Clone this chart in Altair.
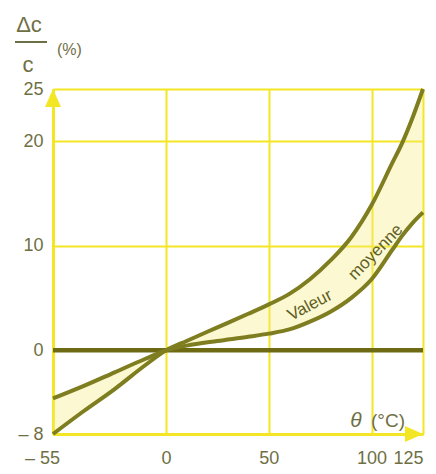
import altair as alt
import pandas as pd

# ---- data ----
temps = [-55, -40, -25, -10, 0, 10, 25, 40, 50, 60, 70, 80, 90, 100, 110, 115, 120, 125]
upper = [-8.0, -5.8, -3.7, -1.4, 0.0, 0.9, 2.2, 3.5, 4.4, 5.4, 6.8, 8.6, 10.8, 13.9, 17.9, 19.9, 22.3, 25.0]
lower = [-4.6, -3.4, -2.1, -0.8, 0.0, 0.45, 0.9, 1.3, 1.6, 2.0, 2.75, 3.7, 5.0, 6.8, 9.6, 11.0, 12.2, 13.2]

x_domain = [-55, 125]
y_domain = [-8, 25]
x_ticks = [-55, 0, 50, 100, 125]
y_ticks = [-8, 0, 10, 20, 25]

label_words = ["Valeur", "moyenne"]
label_x = [70, 102]
label_y = [4.3, 9.4]
label_angle = [332, 314]

YELLOW = "#f3e625"
OLIVE = "#7e7d20"
DARK = "#6e6a14"
TXT = "#6f6f45"
FONT = "Liberation Sans"

df = pd.DataFrame({"t": temps, "upper": upper, "lower": lower})

lbl_expr = "datum.value < 0 ? '\u2013 ' + abs(datum.value) : datum.label"

x_axis = alt.Axis(
    values=x_ticks, grid=True, gridColor=YELLOW, gridWidth=2,
    domainColor=YELLOW, domainWidth=3, ticks=False,
    labelExpr=lbl_expr, labelFont=FONT, labelFontSize=18, labelColor=TXT,
    labelPadding=15, labelBaseline="top", labelOverlap=False, labelFlush=False,
    labelAlign={"condition": {"test": "datum.value == 125", "value": "right"}, "value": "center"},
    labelOffset={"condition": {"test": "datum.value == -55", "value": -11}, "value": 0},
    title=None,
)
y_axis = alt.Axis(
    values=y_ticks, grid=True, gridColor=YELLOW, gridWidth=2,
    domainColor=YELLOW, domainWidth=3, ticks=False,
    labelExpr=lbl_expr, labelFont=FONT, labelFontSize=18, labelColor=TXT,
    labelPadding=10, labelOverlap=False, labelFlush=False,
    title=None,
)
xs = alt.Scale(domain=x_domain, nice=False, zero=False)
ys = alt.Scale(domain=y_domain, nice=False, zero=False)


def X(field):
    return alt.X(field, type="quantitative", scale=xs, axis=x_axis, title=None)


def Y(field):
    return alt.Y(field, type="quantitative", scale=ys, axis=y_axis, title=None)


area = alt.Chart(df).mark_area(color="#f6ec7a", opacity=0.35, interpolate="monotone").encode(
    x=X("t"), y=Y("lower"), y2="upper"
)

zero = alt.Chart(pd.DataFrame({"z": [0]})).mark_rule(color=DARK, strokeWidth=4.5).encode(y=Y("z"))

line_up = alt.Chart(df).mark_line(color=OLIVE, strokeWidth=4, interpolate="monotone").encode(
    x=X("t"), y=Y("upper")
)
line_lo = alt.Chart(df).mark_line(color=OLIVE, strokeWidth=4, interpolate="monotone").encode(
    x=X("t"), y=Y("lower")
)

arrow_up = alt.Chart(pd.DataFrame({"t": [x_domain[0]], "v": [y_domain[1]]})).mark_point(
    shape="M0,0L-0.8,1.8L0.8,1.8Z", filled=True, color=YELLOW, opacity=1, size=400
).encode(x=X("t"), y=Y("v"))
arrow_right = alt.Chart(pd.DataFrame({"t": [x_domain[1]], "v": [y_domain[0]]})).mark_point(
    shape="M0,0L-1.8,-0.8L-1.8,0.8Z", filled=True, color=YELLOW, opacity=1, size=400
).encode(x=X("t"), y=Y("v"))

texts = []
for w, lx, ly, ang in zip(label_words, label_x, label_y, label_angle):
    texts.append(
        alt.Chart(pd.DataFrame({"t": [lx], "v": [ly], "w": [w]})).mark_text(
            font=FONT, fontSize=17, color="#5f5f25", angle=ang
        ).encode(x=X("t"), y=Y("v"), text="w:N")
    )

# titles (fraction dc/c (%) and theta (degC))
def T(txt, x, y, size, align="center", style="normal"):
    return alt.Chart(pd.DataFrame({"s": [txt]})).mark_text(
        font=FONT, fontSize=size, color=TXT, align=align, baseline="alphabetic", fontStyle=style
    ).encode(x=alt.value(x), y=alt.value(y), text="s:N")

t_dc = T("\u0394c", -24, -57, 22)
t_c = T("c", -25, -17, 22)
t_pct = T("(%)", 4, -34, 16, align="left")
bar = alt.Chart(pd.DataFrame({"k": [0]})).mark_rule(color=TXT, strokeWidth=2).encode(
    x=alt.value(-38), x2=alt.value(-6), y=alt.value(-47)
)
t_theta = T("\u03b8", 303, 338, 21, style="italic")
t_unit = T("(\u00b0C)", 335, 338, 19)

chart = alt.layer(
    area, zero, line_up, line_lo, arrow_up, arrow_right, *texts,
    t_dc, t_c, t_pct, bar, t_theta, t_unit
).properties(
    width=370, height=345,
    padding={"left": 45, "top": 81, "right": 5, "bottom": 32},
    autosize=alt.AutoSizeParams(type="none"),
).configure_view(stroke=None).configure(background="white")

chart.save("out.html", embed_options={"renderer": "svg", "actions": False})
